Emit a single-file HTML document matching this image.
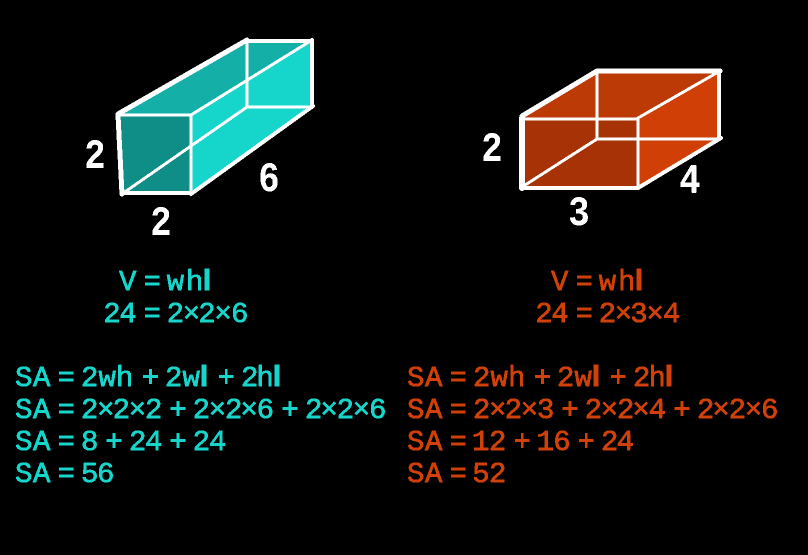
<!DOCTYPE html>
<html><head><meta charset="utf-8"><style>
html,body{margin:0;padding:0;background:#000;width:808px;height:555px;overflow:hidden}
svg{display:block}
.t{font-family:"Liberation Mono",monospace;font-size:29px;stroke-width:.7px;filter:url(#crisp)}
.s{font-family:"Liberation Sans",sans-serif;font-weight:bold}
.b{fill:#16d6cc;stroke:#16d6cc}.o{fill:#d04008;stroke:#d04008}
.n{font-family:"Liberation Mono",monospace;font-weight:bold;font-size:42px;fill:#fff;text-anchor:middle;filter:url(#crisp)}
</style></head><body>
<svg width="808" height="555" viewBox="0 0 808 555" xmlns="http://www.w3.org/2000/svg">
<defs><filter id="crisp" x="-10%" y="-50%" width="120%" height="200%" color-interpolation-filters="sRGB"><feComponentTransfer><feFuncA type="discrete" tableValues="0 1"/></feComponentTransfer></filter></defs>
<rect width="808" height="555" fill="#000"/>

<!-- teal box -->
<g shape-rendering="crispEdges">
<polygon points="118,115 247,40 312,40 247,107 191,115" fill="#14b0a8"/>
<polygon points="247,40 312,40 312,107 247,107" fill="#14b0a8"/>
<polygon points="191,115 247,107 312,107 191,194" fill="#16d6cc"/>
<polygon points="191,115 312,40 312,107 247,107 191,142" fill="#16d6cc"/>
<polygon points="247,40 312,40 247,80" fill="#14b0a8"/>
<polygon points="191,115 247,82 247,107 191,142" fill="#16d6cc"/>
<polygon points="118,115 191,115 191,194 122,194" fill="#0f8e87"/>
</g>
<g stroke="#fff" fill="none" stroke-linecap="round" shape-rendering="crispEdges">
<line x1="122" y1="194" x2="247" y2="107" stroke-width="3"/>
<line x1="247" y1="107" x2="312" y2="107" stroke-width="3"/>
<line x1="247" y1="40" x2="247" y2="107" stroke-width="3"/>
<line x1="191" y1="115" x2="312" y2="40" stroke-width="3"/>
<line x1="118" y1="115" x2="191" y2="115" stroke-width="3"/>
<line x1="191" y1="115" x2="191" y2="194" stroke-width="3"/>
<line x1="118" y1="115" x2="122" y2="194" stroke-width="5"/>
<line x1="122" y1="193" x2="191" y2="193" stroke-width="4"/>
<line x1="118" y1="114" x2="247" y2="40" stroke-width="5"/>
<line x1="247" y1="41" x2="312" y2="41" stroke-width="4"/>
<line x1="312" y1="40" x2="312" y2="107" stroke-width="4"/>
<line x1="191" y1="194" x2="313" y2="106" stroke-width="4"/>
</g>

<!-- orange box -->
<g shape-rendering="crispEdges">
<polygon points="522,118 597,71 720,71 638,118" fill="#bb3a05"/>
<polygon points="638,118 720,71 720,139 638,188" fill="#cf3f06"/>
<polygon points="522,118 638,118 638,188 522,188" fill="#a63205"/>
</g>
<g stroke="#fff" fill="none" stroke-linecap="round" shape-rendering="crispEdges">
<line x1="522" y1="187" x2="597" y2="139" stroke-width="3"/>
<line x1="597" y1="139" x2="720" y2="139" stroke-width="3"/>
<line x1="597" y1="71" x2="597" y2="139" stroke-width="3"/>
<line x1="638" y1="118" x2="720" y2="71" stroke-width="3"/>
<line x1="522" y1="119" x2="638" y2="119" stroke-width="3"/>
<line x1="638" y1="118" x2="638" y2="188" stroke-width="3"/>
<line x1="522" y1="118" x2="522" y2="188" stroke-width="6"/>
<line x1="522" y1="188" x2="638" y2="188" stroke-width="4"/>
<line x1="522" y1="116" x2="597" y2="71" stroke-width="5"/>
<line x1="597" y1="71" x2="720" y2="71" stroke-width="5"/>
<line x1="719" y1="71" x2="719" y2="139" stroke-width="4"/>
<line x1="638" y1="188" x2="721" y2="138" stroke-width="4"/>
</g>

<!-- dimension labels -->
<text class="n" transform="translate(95 168) scale(.85 1)">2</text>
<text class="n" transform="translate(269 191) scale(.85 1)">6</text>
<text class="n" transform="translate(161 235) scale(.85 1)">2</text>
<text class="n" transform="translate(492 161) scale(.85 1)">2</text>
<text class="n" transform="translate(579 225) scale(.85 1)">3</text>
<text class="n" transform="translate(690 193) scale(.85 1)">4</text>

<!-- teal text -->
<g class="b">
<text class="t" y="290" x="119 135 143.5 160 166.7 186">V = wh<tspan class="s" x="203">l</tspan></text>
<text class="t" y="322" x="103.3 119.3 135 143.5 160 166.6 182.7 198.3 214.4 231">24 = 2×2×6</text>
<text class="t" y="386" x="15 33 48 57.5 75 81 98.5 116 135 141.8 160 165 182.5">SA = 2wh + 2w<tspan class="s" x="200">l</tspan><tspan x="210 217.5 235 241 256.5"> + 2h</tspan><tspan class="s" x="273">l</tspan></text>
<text class="t" y="418" x="15 33 48 57.5 75 81 97 112.6 128.7 145 160 169.2 187 192.6 208.7 225 240.4 256.6 275 281.2 300 305 320.4 336.6 352.7 369">SA = 2×2×2 + 2×2×6 + 2×2×6</text>
<text class="t" y="450" x="15 33 48 57.5 75 81 100 105.2 125 129 145 160 169.2 187 192.6 209">SA = 8 + 24 + 24</text>
<text class="t" y="482" x="15 33 48 57.5 75 81 97">SA = 56</text>
</g>

<!-- orange text -->
<g class="o">
<text class="t" y="290" x="551 567 575.5 592 598.7 618">V = wh<tspan class="s" x="635">l</tspan></text>
<text class="t" y="322" x="535.3 551.3 567 575.5 592 598.6 614.7 630.3 646.4 663">24 = 2×3×4</text>
<text class="t" y="386" x="407 425 440 449.5 467 473 490.5 508 527 533.8 552 557 574.5">SA = 2wh + 2w<tspan class="s" x="592">l</tspan><tspan x="602 609.5 627 633 648.5"> + 2h</tspan><tspan class="s" x="665">l</tspan></text>
<text class="t" y="418" x="407 425 440 449.5 467 473 489 504.6 520.7 537 552 561.2 579 584.6 600.7 617 632.4 648.6 667 673.2 692 697 712.4 728.6 744.7 761">SA = 2×2×3 + 2×2×4 + 2×2×6</text>
<text class="t" y="450" x="407 425 440 449.5 467 472 489 505 513.5 530 536.5 553.3 570 577.5 595 601 616.6">SA = 12 + 16 + 24</text>
<text class="t" y="482" x="407 425 440 449.5 467 472.3 489">SA = 52</text>
</g>
</svg>
</body></html>
